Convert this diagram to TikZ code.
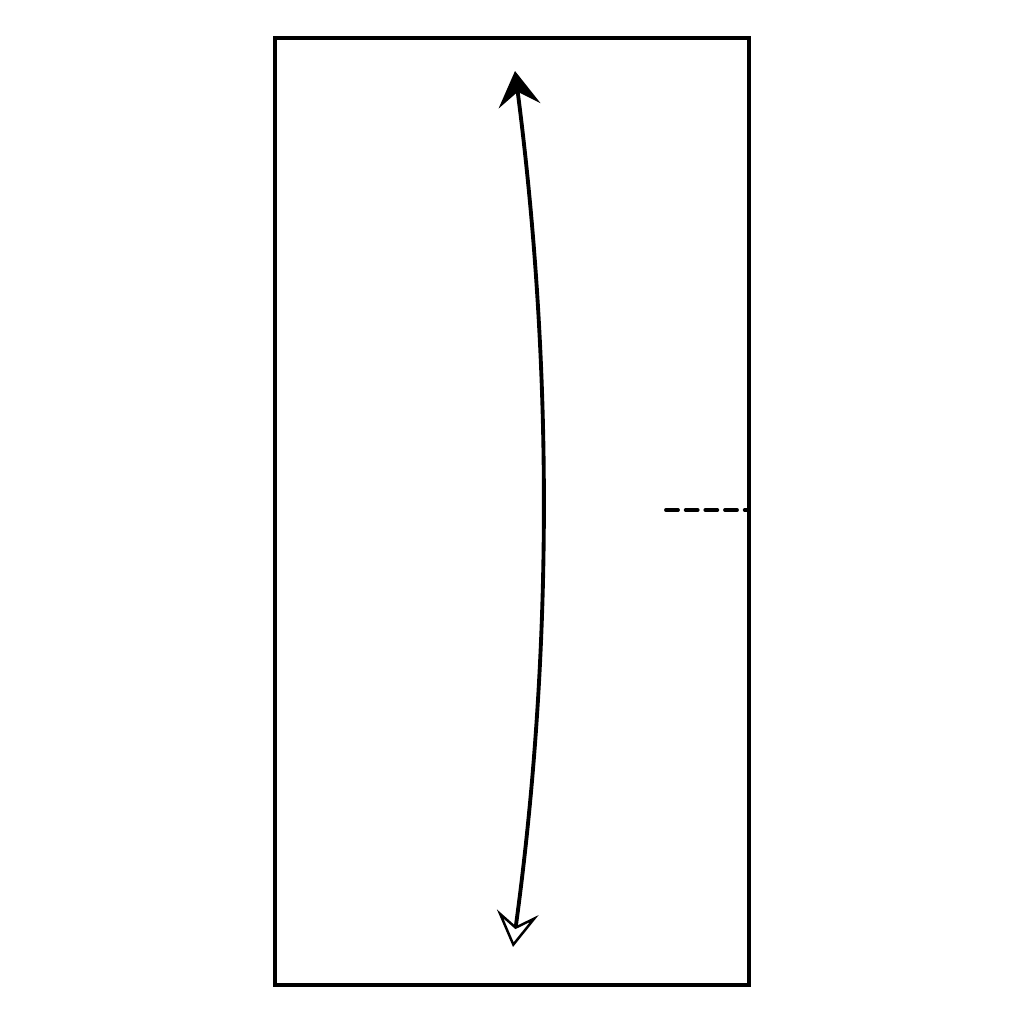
\documentclass[tikz,border=0pt]{standalone}
\usepackage{tikz}
\usetikzlibrary{arrows.meta}

\begin{document}
\begin{tikzpicture}[
            line width=1.1pt,
            frame/.style={draw, line join=miter},
            swing/.style={{Stealth[open,length=3.5mm,width=4.2mm,inset=1.4mm,line width=0.7pt]}-{Stealth[length=3.5mm,width=4.2mm,inset=1.4mm]}},
            edgemark/.style={dash pattern=on 3.4pt off 2.2pt, line cap=round}
        ]
        \useasboundingbox (0,0) rectangle (10.24,10.24);
        % outline of the panel
        \coordinate (SW) at (2.75,0.39);
        \coordinate (NE) at (7.49,9.86);
        \draw[frame] (SW) rectangle (NE);
        % curved double arrow
        \coordinate (bot) at (5.13,0.77);
        \coordinate (top) at (5.15,9.53);
        \draw[swing] (bot) .. controls (5.53,3.7) and (5.53,6.6) .. (top);
        % short dashed mark on the right edge
        \coordinate (markL) at (6.66,5.14);
        \coordinate (markR) at (7.49,5.14);
        \draw[edgemark] (markL) -- (markR);
        \end{tikzpicture}
\end{document}
